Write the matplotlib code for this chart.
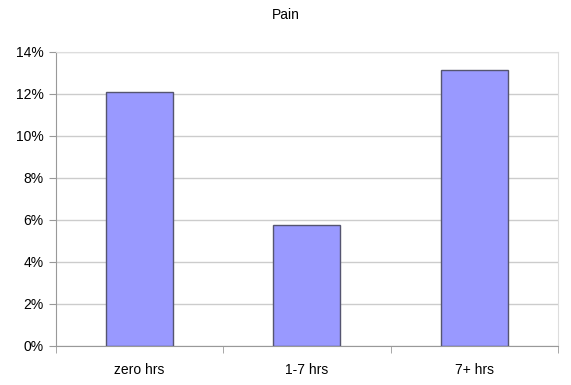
import numpy as np
import matplotlib.pyplot as plt
from matplotlib.ticker import FixedLocator

categories = ['zero hrs', '1-7 hrs', '7+ hrs']
values = [12.1, 5.75, 13.15]
yticks = [0, 2, 4, 6, 8, 10, 12, 14]

fig = plt.figure(figsize=(5.71, 3.85), dpi=100)
ax = fig.add_axes([0.098, 0.1013, 0.879, 0.7637])

x = np.arange(len(categories))
ax.bar(x, values, width=0.4, color='#9999ff', edgecolor='#555570', linewidth=1, zorder=3)

ax.set_xlim(-0.5, len(categories) - 0.5)
ax.set_ylim(0, 14)
ax.set_yticks(yticks)
ax.set_yticklabels(['{}%'.format(t) for t in yticks], fontsize=10, family='Liberation Sans')
ax.set_xticks(x)
ax.set_xticklabels(categories, fontsize=10, family='Liberation Sans')
ax.tick_params(axis='x', length=0, pad=12)
ax.xaxis.set_minor_locator(FixedLocator(np.arange(-0.5, len(categories), 1.0)))
ax.tick_params(axis='x', which='minor', length=5, color='#999999', direction='out')
ax.tick_params(axis='y', length=5, color='#999999', direction='out', pad=4)

ax.grid(axis='y', color='#cccccc', linewidth=1, zorder=0)
ax.spines['left'].set_color('#999999')
ax.spines['bottom'].set_color('#999999')
ax.spines['top'].set_color('#dddddd')
ax.spines['right'].set_color('#dddddd')

fig.text(0.5, 0.962, 'Pain', ha='center', va='center', fontsize=10, family='Liberation Sans')

fig.savefig('out.png', dpi=100)
